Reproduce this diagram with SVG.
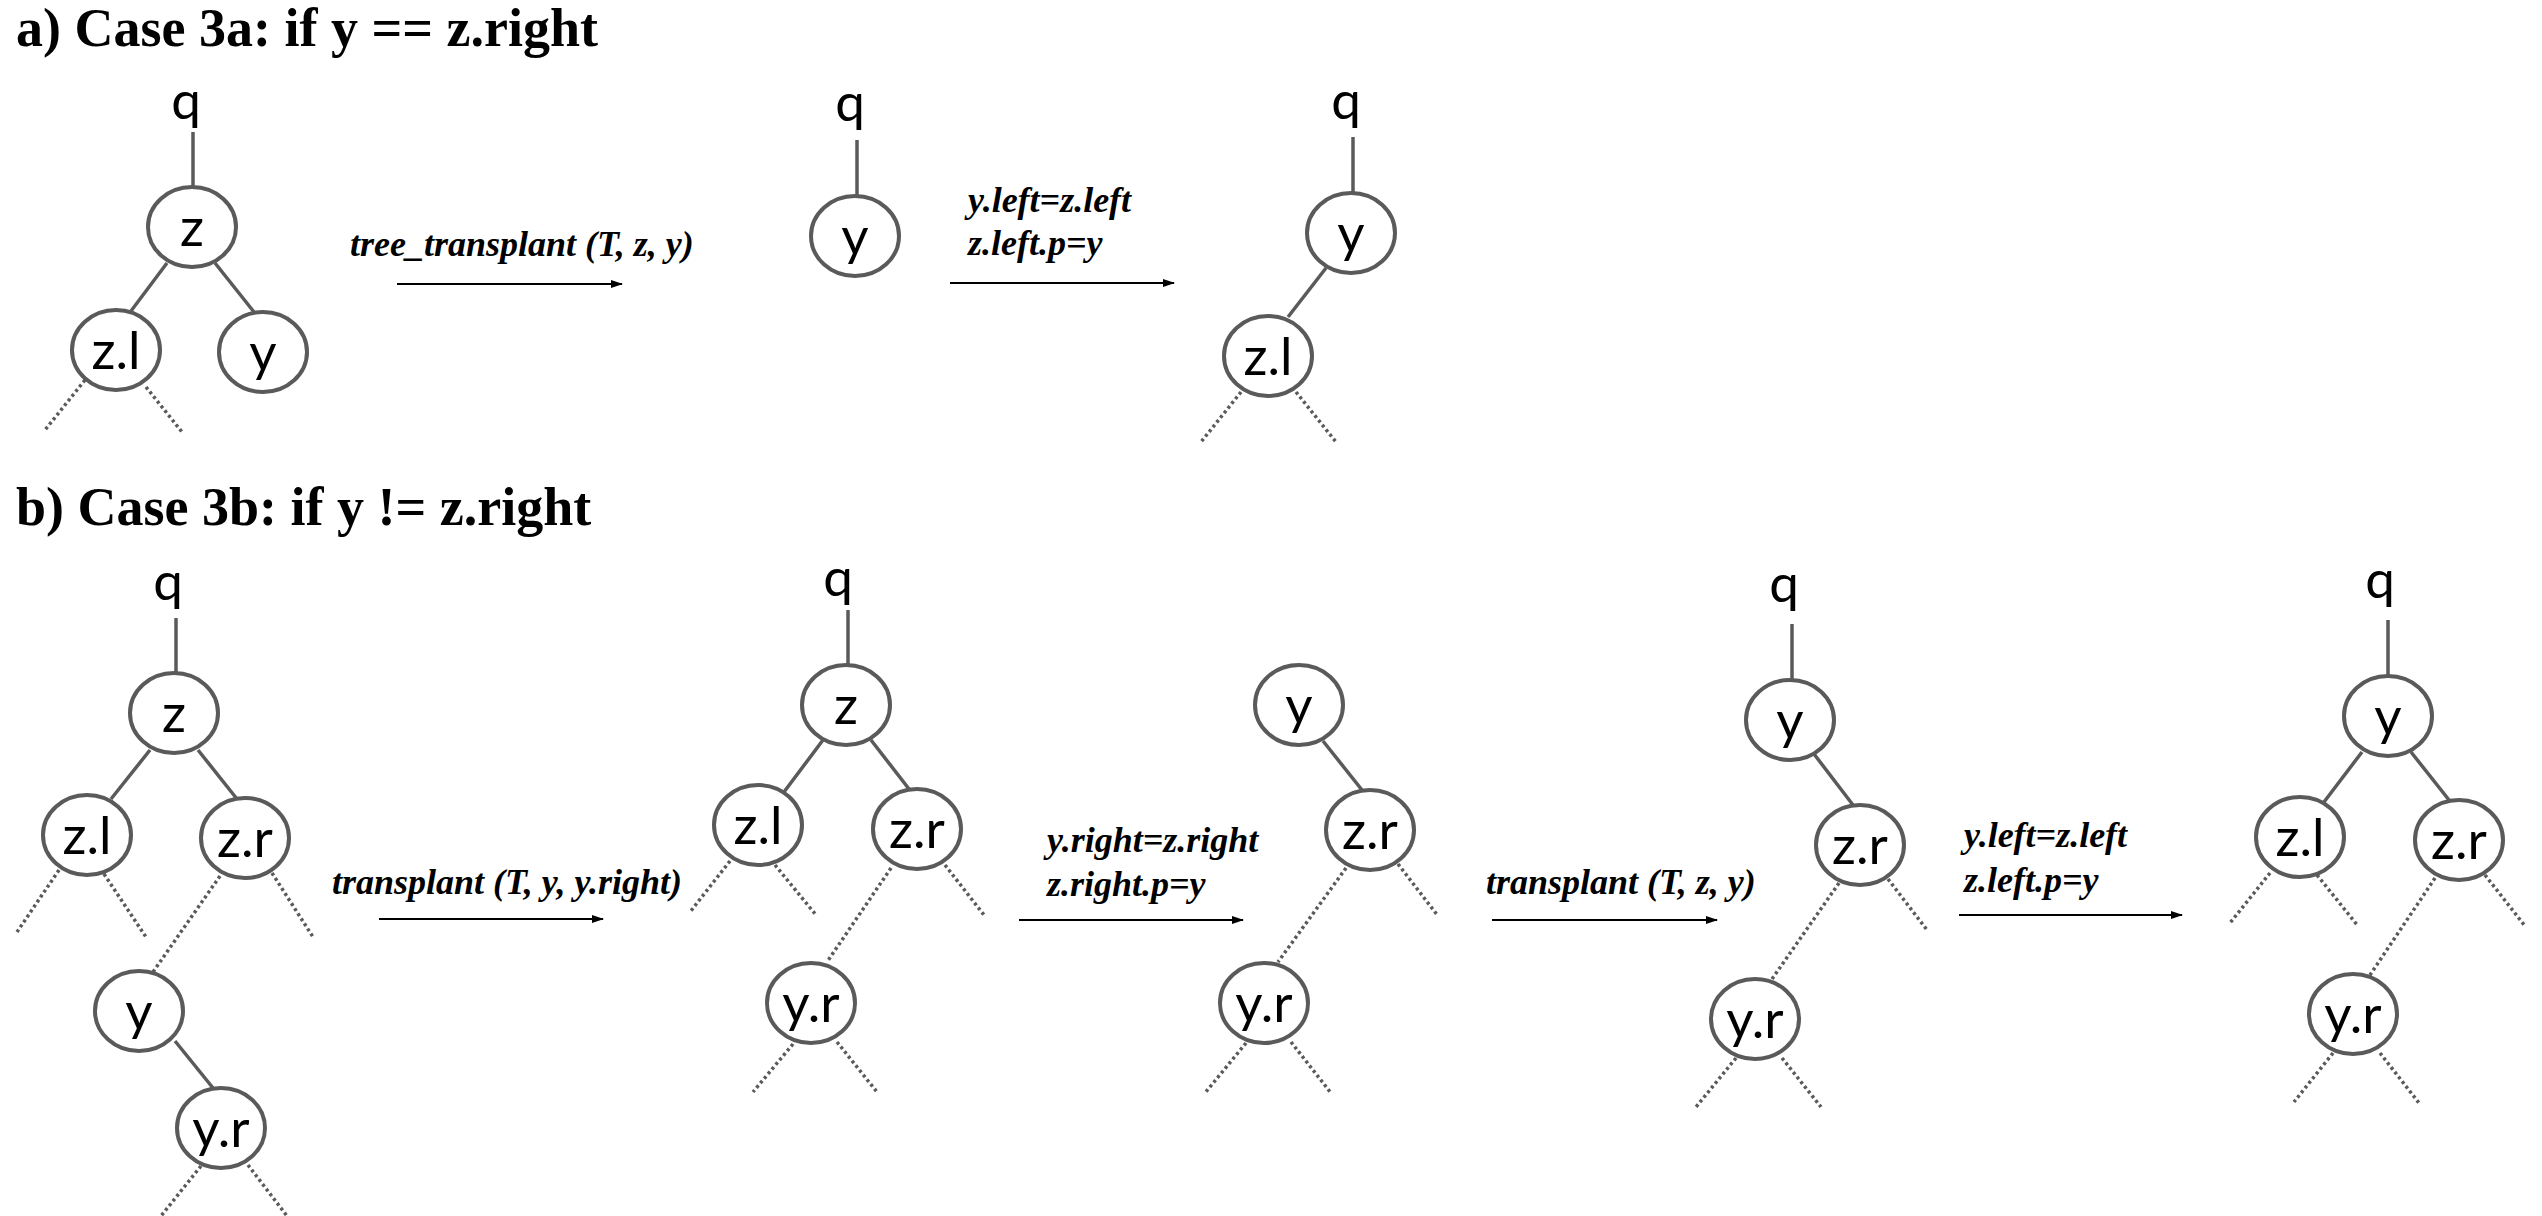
<svg xmlns="http://www.w3.org/2000/svg" width="2542" height="1216" viewBox="0 0 2542 1216">
<defs>
<marker id="ah" markerWidth="12" markerHeight="8" refX="11" refY="4" orient="auto" markerUnits="userSpaceOnUse">
<path d="M0,0 L12,4 L0,8 Z" fill="#000"/>
</marker>
<style>
.title{font-family:"Liberation Serif","Times New Roman",serif;font-weight:bold;font-size:54px;fill:#000}
.lbl{font-family:"Liberation Serif","Times New Roman",serif;font-weight:bold;font-style:italic;font-size:36px;fill:#000}
.nt{font-family:Lato,"Noto Sans",sans-serif;font-size:53px;fill:#000;text-anchor:middle}
.nd{fill:#fff;stroke:#5a5a5a;stroke-width:4}
.e{stroke:#5a5a5a;stroke-width:3.5;fill:none}
.d{stroke:#5a5a5a;stroke-width:3.5;stroke-dasharray:3 3;fill:none}
.ar{stroke:#000;stroke-width:2;fill:none;marker-end:url(#ah)}
</style>
</defs>
<rect width="2542" height="1216" fill="#fff"/>
<text class="title" x="16" y="46">a) Case 3a: if y == z.right</text>
<text class="title" x="16" y="525">b) Case 3b: if y != z.right</text>

<g id="connectors">
<!-- part a tree 1 -->
<line class="e" x1="193" y1="132" x2="193" y2="187"/>
<line class="e" x1="167" y1="263" x2="131" y2="311"/>
<line class="e" x1="215" y1="263" x2="254" y2="312"/>
<line class="d" x1="85" y1="380" x2="45" y2="430"/>
<line class="d" x1="146" y1="387" x2="182" y2="432"/>
<!-- part a tree 2 -->
<line class="e" x1="857" y1="140" x2="857" y2="196"/>
<!-- part a tree 3 -->
<line class="e" x1="1353" y1="137" x2="1353" y2="193"/>
<line class="e" x1="1326" y1="268" x2="1288" y2="317"/>
<line class="d" x1="1241" y1="392" x2="1201" y2="442"/>
<line class="d" x1="1296" y1="392" x2="1336" y2="442"/>
<!-- part a arrows -->
<line class="ar" x1="397" y1="284" x2="622" y2="284"/>
<line class="ar" x1="950" y1="283" x2="1174" y2="283"/>

<!-- part b tree 1 -->
<line class="e" x1="176" y1="618" x2="176" y2="673"/>
<line class="e" x1="150" y1="750" x2="111" y2="799"/>
<line class="e" x1="198" y1="750" x2="237" y2="799"/>
<line class="e" x1="175" y1="1041" x2="213" y2="1088"/>
<line class="d" x1="59" y1="870" x2="17" y2="932"/>
<line class="d" x1="104" y1="874" x2="146" y2="937"/>
<line class="d" x1="272" y1="873" x2="313" y2="937"/>
<line class="d" x1="220" y1="876" x2="153" y2="972"/>
<line class="d" x1="201" y1="1166" x2="161" y2="1216"/>
<line class="d" x1="248" y1="1165" x2="287" y2="1216"/>
<!-- part b tree 2 -->
<line class="e" x1="848" y1="610" x2="848" y2="665"/>
<line class="e" x1="823" y1="740" x2="784" y2="792"/>
<line class="e" x1="871" y1="740" x2="909" y2="789"/>
<line class="d" x1="730" y1="861" x2="690" y2="912"/>
<line class="d" x1="775" y1="865" x2="816" y2="915"/>
<line class="d" x1="945" y1="865" x2="984" y2="915"/>
<line class="d" x1="891" y1="868" x2="827" y2="962"/>
<line class="d" x1="793" y1="1044" x2="753" y2="1092"/>
<line class="d" x1="837" y1="1042" x2="877" y2="1092"/>
<!-- part b tree 3 -->
<line class="e" x1="1323" y1="741" x2="1362" y2="790"/>
<line class="d" x1="1398" y1="864" x2="1438" y2="916"/>
<line class="d" x1="1346" y1="868" x2="1278" y2="962"/>
<line class="d" x1="1246" y1="1043" x2="1205" y2="1093"/>
<line class="d" x1="1291" y1="1042" x2="1331" y2="1093"/>
<!-- part b tree 4 -->
<line class="e" x1="1792" y1="624" x2="1792" y2="680"/>
<line class="e" x1="1814" y1="754" x2="1853" y2="805"/>
<line class="d" x1="1888" y1="879" x2="1927" y2="930"/>
<line class="d" x1="1839" y1="883" x2="1772" y2="979"/>
<line class="d" x1="1736" y1="1058" x2="1696" y2="1107"/>
<line class="d" x1="1782" y1="1058" x2="1821" y2="1107"/>
<!-- part b tree 5 -->
<line class="e" x1="2388" y1="620" x2="2388" y2="676"/>
<line class="e" x1="2362" y1="752" x2="2324" y2="802"/>
<line class="e" x1="2411" y1="752" x2="2449" y2="800"/>
<line class="d" x1="2270" y1="873" x2="2230" y2="923"/>
<line class="d" x1="2317" y1="875" x2="2358" y2="926"/>
<line class="d" x1="2485" y1="875" x2="2525" y2="926"/>
<line class="d" x1="2435" y1="878" x2="2370" y2="975"/>
<line class="d" x1="2333" y1="1053" x2="2294" y2="1102"/>
<line class="d" x1="2380" y1="1053" x2="2419" y2="1103"/>
<!-- part b arrows -->
<line class="ar" x1="379" y1="919" x2="603" y2="919"/>
<line class="ar" x1="1019" y1="920" x2="1243" y2="920"/>
<line class="ar" x1="1492" y1="920" x2="1717" y2="920"/>
<line class="ar" x1="1959" y1="915" x2="2182" y2="915"/>
</g>

<g id="labels">
<text class="lbl" x="350" y="256">tree_transplant (T, z, y)</text>
<text class="lbl" x="968" y="212">y.left=z.left</text>
<text class="lbl" x="968" y="255">z.left.p=y</text>
<text class="lbl" x="332" y="894">transplant (T, y, y.right)</text>
<text class="lbl" x="1047" y="852">y.right=z.right</text>
<text class="lbl" x="1047" y="896">z.right.p=y</text>
<text class="lbl" x="1486" y="894">transplant (T, z, y)</text>
<text class="lbl" x="1964" y="847">y.left=z.left</text>
<text class="lbl" x="1964" y="892">z.left.p=y</text>
</g>

<!-- part a tree 1 -->
<g id="a1-q"><text class="nt" x="186" y="119">q</text></g>
<g id="a1-z"><ellipse class="nd" cx="192" cy="227" rx="44" ry="40"/><text class="nt" x="192" y="246">z</text></g>
<g id="a1-zl"><ellipse class="nd" cx="116" cy="350" rx="44" ry="40"/><text class="nt" x="116" y="369">z.l</text></g>
<g id="a1-y"><ellipse class="nd" cx="263" cy="352" rx="44" ry="40"/><text class="nt" x="263" y="371">y</text></g>
<!-- part a tree 2 -->
<g id="a2-q"><text class="nt" x="850" y="121">q</text></g>
<g id="a2-y"><ellipse class="nd" cx="855" cy="236" rx="44" ry="40"/><text class="nt" x="855" y="255">y</text></g>
<!-- part a tree 3 -->
<g id="a3-q"><text class="nt" x="1346" y="119">q</text></g>
<g id="a3-y"><ellipse class="nd" cx="1351" cy="233" rx="44" ry="40"/><text class="nt" x="1351" y="252">y</text></g>
<g id="a3-zl"><ellipse class="nd" cx="1268" cy="356" rx="44" ry="40"/><text class="nt" x="1268" y="375">z.l</text></g>

<!-- part b tree 1 -->
<g id="b1-q"><text class="nt" x="168" y="600">q</text></g>
<g id="b1-z"><ellipse class="nd" cx="174" cy="713" rx="44" ry="40"/><text class="nt" x="174" y="732">z</text></g>
<g id="b1-zl"><ellipse class="nd" cx="87" cy="835" rx="44" ry="40"/><text class="nt" x="87" y="854">z.l</text></g>
<g id="b1-zr"><ellipse class="nd" cx="245" cy="838" rx="44" ry="40"/><text class="nt" x="245" y="857">z.r</text></g>
<g id="b1-y"><ellipse class="nd" cx="139" cy="1011" rx="44" ry="40"/><text class="nt" x="139" y="1030">y</text></g>
<g id="b1-yr"><ellipse class="nd" cx="221" cy="1128" rx="44" ry="40"/><text class="nt" x="221" y="1147">y.r</text></g>
<!-- part b tree 2 -->
<g id="b2-q"><text class="nt" x="838" y="596">q</text></g>
<g id="b2-z"><ellipse class="nd" cx="846" cy="705" rx="44" ry="40"/><text class="nt" x="846" y="724">z</text></g>
<g id="b2-zl"><ellipse class="nd" cx="758" cy="825" rx="44" ry="40"/><text class="nt" x="758" y="844">z.l</text></g>
<g id="b2-zr"><ellipse class="nd" cx="917" cy="829" rx="44" ry="40"/><text class="nt" x="917" y="848">z.r</text></g>
<g id="b2-yr"><ellipse class="nd" cx="811" cy="1003" rx="44" ry="40"/><text class="nt" x="811" y="1022">y.r</text></g>
<!-- part b tree 3 -->
<g id="b3-y"><ellipse class="nd" cx="1299" cy="705" rx="44" ry="40"/><text class="nt" x="1299" y="724">y</text></g>
<g id="b3-zr"><ellipse class="nd" cx="1370" cy="830" rx="44" ry="40"/><text class="nt" x="1370" y="849">z.r</text></g>
<g id="b3-yr"><ellipse class="nd" cx="1264" cy="1003" rx="44" ry="40"/><text class="nt" x="1264" y="1022">y.r</text></g>
<!-- part b tree 4 -->
<g id="b4-q"><text class="nt" x="1784" y="602">q</text></g>
<g id="b4-y"><ellipse class="nd" cx="1790" cy="720" rx="44" ry="40"/><text class="nt" x="1790" y="739">y</text></g>
<g id="b4-zr"><ellipse class="nd" cx="1860" cy="845" rx="44" ry="40"/><text class="nt" x="1860" y="864">z.r</text></g>
<g id="b4-yr"><ellipse class="nd" cx="1755" cy="1019" rx="44" ry="40"/><text class="nt" x="1755" y="1038">y.r</text></g>
<!-- part b tree 5 -->
<g id="b5-q"><text class="nt" x="2380" y="598">q</text></g>
<g id="b5-y"><ellipse class="nd" cx="2388" cy="716" rx="44" ry="40"/><text class="nt" x="2388" y="735">y</text></g>
<g id="b5-zl"><ellipse class="nd" cx="2300" cy="837" rx="44" ry="40"/><text class="nt" x="2300" y="856">z.l</text></g>
<g id="b5-zr"><ellipse class="nd" cx="2459" cy="840" rx="44" ry="40"/><text class="nt" x="2459" y="859">z.r</text></g>
<g id="b5-yr"><ellipse class="nd" cx="2353" cy="1014" rx="44" ry="40"/><text class="nt" x="2353" y="1033">y.r</text></g>
</svg>
